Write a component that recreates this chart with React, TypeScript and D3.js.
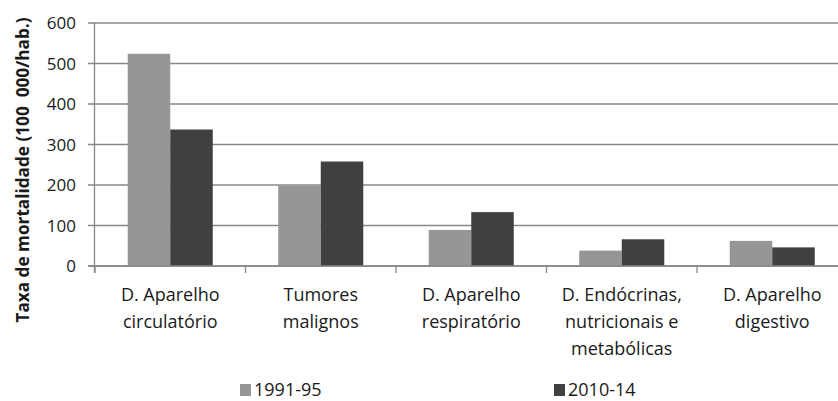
import React from "react";
import * as d3 from "d3";

const categories: string[][] = [
  ["D. Aparelho", "circulatório"],
  ["Tumores", "malignos"],
  ["D. Aparelho", "respiratório"],
  ["D. Endócrinas,", "nutricionais e", "metabólicas"],
  ["D. Aparelho", "digestivo"],
];
const seriesNames = ["1991-95", "2010-14"];
const values1991 = [524, 198, 89, 38, 62];
const values2010 = [337, 258, 133, 66, 46];
const yTicks = [0, 100, 200, 300, 400, 500, 600];
const yTitle = "Taxa de mortalidade (100  000/hab.)";

const W = 838;
const H = 401;
const colors = ["#969696", "#404040"];
const gridColor = "#878787";
const font = "'Open Sans', sans-serif";

export default function App() {
  const keys = categories.map((_, i) => String(i));
  const x0 = d3.scaleBand<string>().domain(keys).range([95, 847.5]).padding(0);
  const bw = x0.bandwidth();
  const x1 = d3
    .scaleBand<string>()
    .domain(seriesNames)
    .range([0, bw])
    .paddingInner(0)
    .paddingOuter(0.77);
  const y = d3.scaleLinear().domain([0, 600]).range([266, 23]);
  const series = [values1991, values2010];
  const boundaries = keys.map((k) => x0(k) as number).concat([847.5]);

  return (
    <svg
      width={W}
      height={H}
      style={{ position: "absolute", left: 0, top: 0, background: "#fff" }}
      fontFamily={font}
    >
      <rect x={0} y={0} width={W} height={H} fill="#fff" />
      {yTicks.map((t) => (
        <line
          key={"g" + t}
          x1={88}
          x2={W}
          y1={y(t)}
          y2={y(t)}
          stroke={gridColor}
          strokeWidth={1.6}
        />
      ))}
      <line x1={94.5} x2={94.5} y1={y(600)} y2={273} stroke={gridColor} strokeWidth={1.3} />
      {boundaries.map((b, i) => (
        <line key={"xt" + i} x1={b} x2={b} y1={266} y2={273} stroke={gridColor} strokeWidth={1.3} />
      ))}
      {series.map((vals, si) =>
        vals.map((v, ci) => (
          <rect
            key={`b${si}-${ci}`}
            x={(x0(keys[ci]) as number) + (x1(seriesNames[si]) as number)}
            y={y(v)}
            width={x1.bandwidth()}
            height={y(0) - y(v)}
            fill={colors[si]}
          />
        ))
      )}
      <line x1={88} x2={W} y1={y(0)} y2={y(0)} stroke={gridColor} strokeWidth={1.6} />
      {yTicks.map((t) => (
        <text
          key={"yl" + t}
          x={76}
          y={y(t)}
          dy="0.36em"
          textAnchor="end"
          fontSize={17}
          fill="#1a1a1a"
        >
          {t}
        </text>
      ))}
      <text
        transform={`translate(29,${170}) rotate(-90)`}
        textAnchor="middle"
        fontSize={18}
        fontWeight="bold"
        fill="#1a1a1a"
        textLength={305}
        lengthAdjust="spacingAndGlyphs"
        style={{ whiteSpace: "pre" }}
      >
        {yTitle}
      </text>
      {categories.map((lines, ci) => (
        <text
          key={"c" + ci}
          x={(x0(keys[ci]) as number) + bw / 2}
          y={301}
          textAnchor="middle"
          fontSize={18}
          fill="#1a1a1a"
        >
          {lines.map((l, li) => (
            <tspan key={li} x={(x0(keys[ci]) as number) + bw / 2} y={301 + li * 27}>
              {l}
            </tspan>
          ))}
        </text>
      ))}
      {seriesNames.map((s, si) => {
        const lx = [240, 554][si];
        return (
          <g key={"l" + si}>
            <rect x={lx} y={384} width={11} height={12} fill={colors[si]} />
            <text x={lx + 14} y={396} fontSize={18} fill="#1a1a1a">
              {s}
            </text>
          </g>
        );
      })}
    </svg>
  );
}
